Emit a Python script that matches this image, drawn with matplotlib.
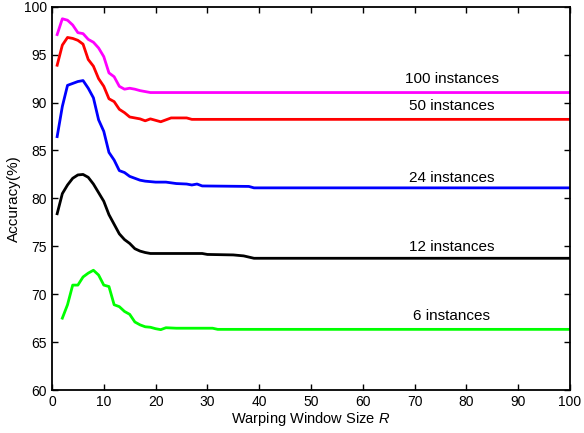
import matplotlib.pyplot as plt

# --- データ ---
x_100 = [1, 2, 3, 4, 5, 6, 7, 8, 9, 10, 11, 12, 13, 14, 15, 16, 17, 18, 19, 100]
y_100 = [97.1, 98.75, 98.6, 98.1, 97.3, 97.2, 96.6, 96.3, 95.7, 94.8, 93.1, 92.7,
         91.7, 91.4, 91.5, 91.4, 91.25, 91.15, 91.05, 91.05]

x_50 = [1, 2, 3, 4, 5, 6, 7, 8, 9, 10, 11, 12, 13, 14, 15, 16, 17, 18, 19, 20, 21,
        23, 25, 26, 27, 100]
y_50 = [93.9, 96.0, 96.8, 96.7, 96.5, 96.1, 94.5, 93.8, 92.5, 91.7, 90.4, 90.1,
        89.3, 88.95, 88.5, 88.4, 88.3, 88.1, 88.3, 88.15, 88.0,
        88.4, 88.4, 88.4, 88.25, 88.25]

x_24 = [1, 2, 3, 4, 5, 6, 7, 8, 9, 10, 11, 12, 13, 14, 15, 16, 17, 18, 19, 20,
        22, 24, 26, 27, 28, 29, 38, 39, 100]
y_24 = [86.45, 89.6, 91.8, 92.0, 92.2, 92.3, 91.5, 90.5, 88.2, 87.0, 84.8, 84.0,
        82.9, 82.7, 82.3, 82.1, 81.9, 81.8, 81.75, 81.7,
        81.7, 81.55, 81.5, 81.4, 81.5, 81.3, 81.25, 81.1, 81.1]

x_12 = [1, 2, 3, 4, 5, 6, 7, 8, 9, 10, 11, 12, 13, 14, 15, 16, 17, 18, 19,
        29, 30, 35, 37, 39, 100]
y_12 = [78.4, 80.5, 81.4, 82.1, 82.45, 82.5, 82.2, 81.5, 80.6, 79.7, 78.3, 77.3,
        76.3, 75.7, 75.3, 74.75, 74.5, 74.35, 74.25,
        74.25, 74.15, 74.1, 74.0, 73.75, 73.75]

x_6 = [2, 3, 4, 5, 6, 7, 8, 9, 10, 11, 12, 13, 14, 15, 16, 17, 18, 19, 20, 21,
       22, 24, 31, 32, 100]
y_6 = [67.5, 68.9, 70.95, 70.95, 71.8, 72.2, 72.5, 72.0, 70.95, 70.8, 68.9, 68.7,
       68.2, 67.9, 67.1, 66.8, 66.6, 66.55, 66.4, 66.3,
       66.5, 66.45, 66.45, 66.33, 66.33]

series_labels = ['100 instances', '50 instances', '24 instances', '12 instances', '6 instances']
label_y = [92.5, 89.65, 82.1, 74.9, 67.7]
label_x = 77.2

plt.rcParams['font.family'] = ['Liberation Sans', 'DejaVu Sans']
plt.rcParams['mathtext.fontset'] = 'custom'
plt.rcParams['mathtext.it'] = 'Liberation Sans:italic'
plt.rcParams['mathtext.rm'] = 'Liberation Sans'

fig = plt.figure(figsize=(5.84, 4.33), dpi=100)
ax = fig.add_axes([0.089, 0.0993, 0.887, 0.885])

lw = 2.0
ax.plot(x_100, y_100, color='#ff00ff', lw=lw)
ax.plot(x_50, y_50, color='#ff0000', lw=lw)
ax.plot(x_24, y_24, color='#0000ff', lw=lw)
ax.plot(x_12, y_12, color='#000000', lw=lw)
ax.plot(x_6, y_6, color='#00ff00', lw=lw)

for lab, ly in zip(series_labels, label_y):
    ax.text(label_x, ly, lab, ha='center', va='center', fontsize=11)

ax.set_xlim(0, 100)
ax.set_ylim(60, 100)
ax.set_xticks(range(0, 101, 10))
ax.set_yticks(range(60, 101, 5))
ax.tick_params(direction='in', top=True, right=True, labelsize=10, length=4, width=1)
for s in ax.spines.values():
    s.set_linewidth(1.3)

ax.set_xlabel('Warping Window Size $R$', fontsize=10.5, labelpad=1)
ax.set_ylabel('Accuracy(%)', fontsize=11, labelpad=2)

fig.savefig('out.png', dpi=100)
